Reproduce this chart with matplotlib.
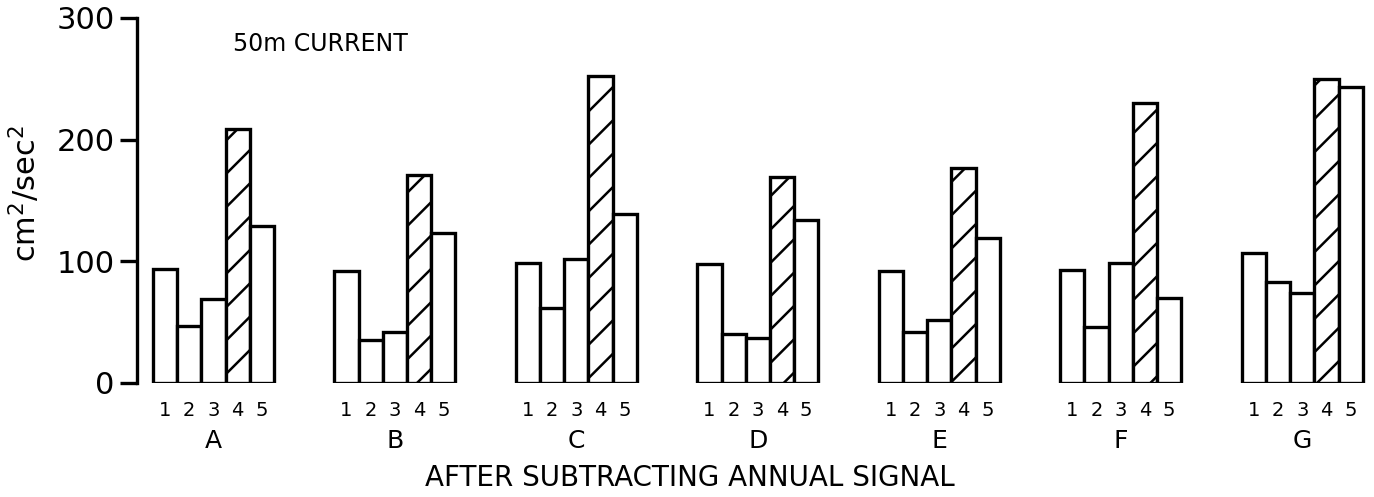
import numpy as np
import matplotlib.pyplot as plt
from matplotlib import transforms

# variance per band (cm^2/sec^2) at each mooring, annual signal removed
moorings = ['A', 'B', 'C', 'D', 'E', 'F', 'G']
bands = ['1', '2', '3', '4', '5']
band1 = [94, 92, 99, 98, 92, 93, 107]
band2 = [47, 35, 62, 40, 42, 46, 83]
band3 = [69, 42, 102, 37, 52, 99, 74]
band4 = [209, 171, 252, 169, 177, 230, 250]
band5 = [129, 123, 139, 134, 119, 70, 243]

plt.rcParams['hatch.linewidth'] = 1.8
plt.rcParams['font.family'] = 'DejaVu Sans'

fig = plt.figure(figsize=(13.74, 4.97), dpi=100)
ax = fig.add_axes([137 / 1374, 114 / 497, (1370 - 137) / 1374, 365 / 497])

values = np.array([band1, band2, band3, band4, band5])
group_step = 7.5
centers = []
for g in range(len(moorings)):
    for b in range(len(bands)):
        x = g * group_step + b + 0.5
        centers.append(x)
        ax.bar(x, values[b, g], width=1.0, facecolor='white',
               edgecolor='black', linewidth=2.4,
               hatch='/' if b == 3 else None)

ax.set_xlim(-0.66, 50.3)
ax.set_ylim(0, 300)

for side in ['top', 'right', 'bottom']:
    ax.spines[side].set_visible(False)
ax.spines['left'].set_linewidth(2.4)

ax.set_yticks([0, 100, 200, 300])
ax.tick_params(axis='y', length=12, width=2.4, labelsize=22, pad=4)
ax.set_xticks(centers)
ax.set_xticklabels(bands * len(moorings), fontsize=14)
ax.tick_params(axis='x', length=0, pad=13)

trans = transforms.blended_transform_factory(ax.transData, ax.transAxes)
for g, name in enumerate(moorings):
    ax.text(g * group_step + 2.5, -0.158, name, transform=trans,
            ha='center', va='center', fontsize=18)

ax.set_ylabel('cm$^2$/sec$^2$', fontsize=22)
ax.yaxis.set_label_coords(-0.077, 0.52)
ax.text(0.078, 0.93, '50m CURRENT', transform=ax.transAxes, fontsize=17,
        ha='left', va='center')
fig.text(0.502, 0.038, 'AFTER SUBTRACTING ANNUAL SIGNAL', fontsize=20,
         ha='center', va='center')

fig.savefig('out.png', dpi=100)
